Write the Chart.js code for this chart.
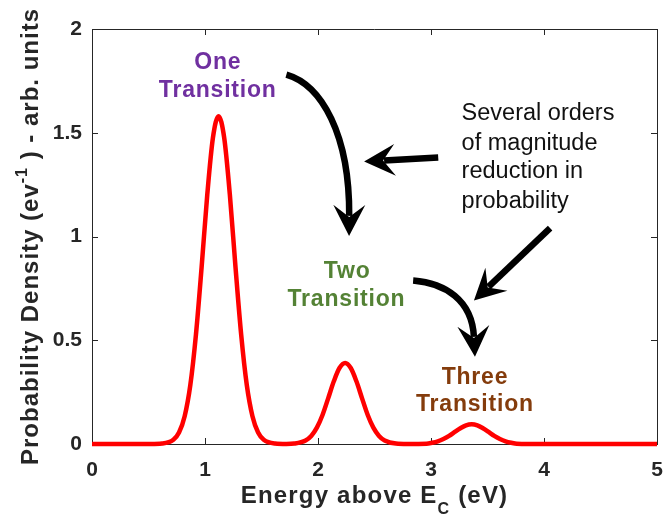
<!DOCTYPE html>
<html>
<head>
<meta charset="utf-8">
<script src="https://cdn.jsdelivr.net/npm/chart.js@4/dist/chart.umd.min.js"></script>
<style>
  html, body { margin: 0; padding: 0; background: #fff; }
</style>
</head>
<body>
<canvas id="chart" width="663" height="523"></canvas>
<script>
// energy above Ec (eV) and probability density
const energy = [0, 0.52, 0.62, 0.72, 0.77, 0.82, 0.87, 0.92, 0.97, 1.02, 1.07, 1.12, 1.17, 1.22, 1.27,
  1.32, 1.37, 1.42, 1.47, 1.52, 1.62, 1.72,
  1.79, 1.89, 1.94, 1.99, 2.04, 2.09, 2.14, 2.19, 2.24, 2.29, 2.34, 2.39, 2.44, 2.49, 2.54, 2.59, 2.69, 2.79,
  2.96, 3.01, 3.06, 3.11, 3.16, 3.21, 3.26, 3.31, 3.36, 3.41, 3.46, 3.51, 3.56, 3.61, 3.66, 3.71, 3.76, 3.86, 5];
const density = [0, 0, 0.002, 0.020, 0.055, 0.134, 0.284, 0.528, 0.852, 1.201, 1.475, 1.58, 1.475, 1.201, 0.852,
  0.528, 0.284, 0.134, 0.055, 0.020, 0.002, 0,
  0.002, 0.017, 0.039, 0.079, 0.140, 0.220, 0.302, 0.366, 0.39, 0.366, 0.302, 0.220, 0.140, 0.079, 0.039, 0.017, 0.002, 0,
  0.001, 0.006, 0.013, 0.024, 0.039, 0.058, 0.076, 0.090, 0.095, 0.090, 0.076, 0.058, 0.039, 0.024, 0.013, 0.006, 0.001, 0, 0];

const xTicks = [0, 1, 2, 3, 4, 5];
const yTicks = [0, 0.5, 1, 1.5, 2];

// axis titles, with sub/superscript pieces
const xTitle = [['Energy above E', ''], ['C', 'sub'], [' (eV)', '']];
const yTitle = [['Probability Density (ev', ''], ['-1', 'sup'], [' ) - arb. units', '']];

// labels placed in data units
const peakLabels = [
  { text: 'One', x: 1.113, y: 1.840, color: '#7030A0' },
  { text: 'Transition', x: 1.113, y: 1.703, color: '#7030A0' },
  { text: 'Two', x: 2.258, y: 0.829, color: '#548235' },
  { text: 'Transition', x: 2.252, y: 0.696, color: '#548235' },
  { text: 'Three', x: 3.389, y: 0.320, color: '#843C0C' },
  { text: 'Transition', x: 3.389, y: 0.189, color: '#843C0C' }
];
const noteLines = ['Several orders', 'of magnitude', 'reduction in', 'probability'];
const noteX = 3.271;
const noteY = [1.595, 1.450, 1.313, 1.169];

// arrows: start, optional bezier controls, tip (data units)
const arrows = [
  { from: [1.720, 1.780], c1: [2.033, 1.731], c2: [2.281, 1.490], to: [2.275, 1.003] },
  { from: [3.064, 1.381], to: [2.408, 1.361] },
  { from: [4.054, 1.040], to: [3.380, 0.691] },
  { from: [2.842, 0.788], c1: [3.123, 0.776], c2: [3.363, 0.694], to: [3.389, 0.420] }
];

const FONT = "'Liberation Sans', Arial, Helvetica, sans-serif";
const INK = '#262626';

function drawSegs(ctx, segs, cx, baseY, size, spacing) {
  const parts = segs.map(([t, kind]) => {
    const fs = kind ? Math.round(size * 0.68) : size;
    ctx.font = 'bold ' + fs + 'px ' + FONT;
    ctx.letterSpacing = spacing + 'px';
    return { t, kind, fs, w: ctx.measureText(t).width };
  });
  const total = parts.reduce((a, p) => a + p.w, 0);
  let x = cx - total / 2;
  ctx.textAlign = 'left';
  ctx.textBaseline = 'alphabetic';
  parts.forEach(p => {
    ctx.font = 'bold ' + p.fs + 'px ' + FONT;
    ctx.letterSpacing = spacing + 'px';
    let dy = 0;
    if (p.kind === 'sub') dy = size * 0.45;
    if (p.kind === 'sup') dy = -size * 0.42;
    ctx.fillText(p.t, x, baseY + dy);
    x += p.w;
  });
}

function arrowHead(ctx, tx, ty, dx, dy) {
  const L = 31, W = 16, N = 19;
  const px = -dy, py = dx;
  ctx.beginPath();
  ctx.moveTo(tx, ty);
  ctx.lineTo(tx - dx * L + px * W, ty - dy * L + py * W);
  ctx.lineTo(tx - dx * N, ty - dy * N);
  ctx.lineTo(tx - dx * L - px * W, ty - dy * L - py * W);
  ctx.closePath();
  ctx.fill();
}

const decor = {
  id: 'decor',
  beforeDatasetsDraw(chart) {
    const { ctx, chartArea: ca, scales } = chart;
    ctx.save();
    ctx.strokeStyle = INK;
    ctx.lineWidth = 1;
    ctx.beginPath();
    ctx.moveTo(ca.left, ca.top + 0.5);
    ctx.lineTo(ca.right + 0.5, ca.top + 0.5);
    ctx.lineTo(ca.right + 0.5, ca.bottom);
    // inward ticks on all four sides
    xTicks.forEach(v => {
      const px = Math.round(scales.x.getPixelForValue(v)) + 0.5;
      ctx.moveTo(px, ca.bottom); ctx.lineTo(px, ca.bottom - 6);
      ctx.moveTo(px, ca.top); ctx.lineTo(px, ca.top + 6);
    });
    yTicks.forEach(v => {
      const py = Math.round(scales.y.getPixelForValue(v)) + 0.5;
      ctx.moveTo(ca.left, py); ctx.lineTo(ca.left + 6, py);
      ctx.moveTo(ca.right, py); ctx.lineTo(ca.right - 6, py);
    });
    ctx.stroke();
    ctx.restore();
  },
  afterDatasetsDraw(chart) {
    const { ctx, scales } = chart;
    const X = v => scales.x.getPixelForValue(v);
    const Y = v => scales.y.getPixelForValue(v);
    ctx.save();

    // arrows
    ctx.strokeStyle = '#000';
    ctx.fillStyle = '#000';
    ctx.lineWidth = 6.5;
    ctx.lineCap = 'butt';
    arrows.forEach(a => {
      const sx = X(a.from[0]), sy = Y(a.from[1]);
      const tx = X(a.to[0]), ty = Y(a.to[1]);
      const ref = a.c2 ? [X(a.c2[0]), Y(a.c2[1])] : [sx, sy];
      let dx = tx - ref[0], dy = ty - ref[1];
      const len = Math.hypot(dx, dy);
      dx /= len; dy /= len;
      const ex = tx - dx * 20, ey = ty - dy * 20;
      ctx.beginPath();
      ctx.moveTo(sx, sy);
      if (a.c1) {
        ctx.bezierCurveTo(X(a.c1[0]), Y(a.c1[1]), X(a.c2[0]), Y(a.c2[1]), ex, ey);
      } else {
        ctx.lineTo(ex, ey);
      }
      ctx.stroke();
      arrowHead(ctx, tx, ty, dx, dy);
    });

    // peak labels
    ctx.textAlign = 'center';
    ctx.textBaseline = 'middle';
    ctx.font = 'bold 23px ' + FONT;
    ctx.letterSpacing = '0.8px';
    peakLabels.forEach(l => {
      ctx.fillStyle = l.color;
      ctx.fillText(l.text, X(l.x), Y(l.y));
    });

    // note text
    ctx.fillStyle = '#111';
    ctx.textAlign = 'left';
    ctx.font = '23.5px ' + FONT;
    ctx.letterSpacing = '0px';
    noteLines.forEach((t, i) => ctx.fillText(t, X(noteX), Y(noteY[i])));
    ctx.restore();
  },
  afterDraw(chart) {
    const { ctx, chartArea: ca } = chart;
    ctx.save();
    ctx.fillStyle = INK;
    drawSegs(ctx, xTitle, (ca.left + ca.right) / 2, 503, 24, 1.2);
    ctx.translate(37.5, (ca.top + ca.bottom) / 2);
    ctx.rotate(-Math.PI / 2);
    drawSegs(ctx, yTitle, 0, 0, 24, 1);
    ctx.restore();
  }
};

const tickFont = { family: FONT, size: 21, weight: 'bold' };

function fixX(s) {
  s.height = 79;
  s.paddingLeft = 0;
  s.paddingRight = 0;
}
function fixY(s) {
  s.width = 92;
  s.paddingTop = 0;
  s.paddingBottom = 0;
}

new Chart(document.getElementById('chart').getContext('2d'), {
  type: 'line',
  data: {
    datasets: [{
      data: energy.map((e, i) => ({ x: e, y: density[i] })),
      borderColor: '#FF0000',
      borderWidth: 4.5,
      fill: false,
      pointRadius: 0,
      cubicInterpolationMode: 'monotone',
      clip: false
    }]
  },
  options: {
    responsive: false,
    animation: false,
    layout: { padding: { top: 29, right: 6, left: 0, bottom: 0 } },
    plugins: {
      legend: { display: false },
      tooltip: { enabled: false }
    },
    scales: {
      x: {
        type: 'linear',
        min: 0,
        max: 5,
        afterBuildTicks: s => { s.ticks = xTicks.map(v => ({ value: v })); },
        afterFit: fixX,
        grid: { display: false, drawTicks: false },
        border: { color: INK, width: 1 },
        ticks: { color: INK, font: tickFont, padding: 14, maxRotation: 0 }
      },
      y: {
        min: 0,
        max: 2,
        afterBuildTicks: s => { s.ticks = yTicks.map(v => ({ value: v })); },
        afterFit: fixY,
        grid: { display: false, drawTicks: false },
        border: { color: INK, width: 1 },
        ticks: { color: INK, font: tickFont, padding: 10, callback: v => String(v) }
      }
    }
  },
  plugins: [decor]
});
</script>
</body>
</html>
